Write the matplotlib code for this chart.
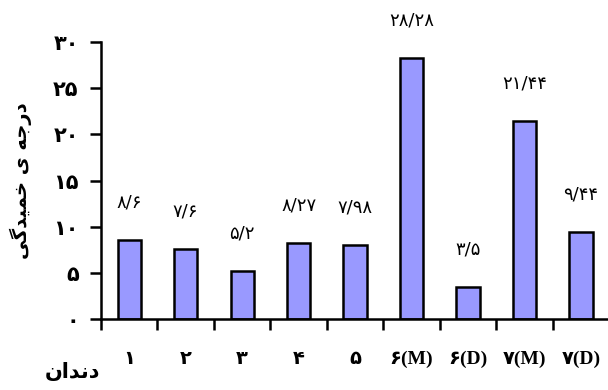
import matplotlib
matplotlib.use("Agg")
import matplotlib.pyplot as plt

# Data
categories = ["1", "2", "3", "4", "5", "6(M)", "6(D)", "7(M)", "7(D)"]
values = [8.6, 7.6, 5.2, 8.27, 7.98, 28.28, 3.5, 21.44, 9.44]
value_labels = ["8/6", "7/6", "5/2", "8/27", "7/98", "28/28", "3/5", "21/44", "9/44"]
yticks = [0, 5, 10, 15, 20, 25, 30]
ylabel_text = "درجه ی خمیدگی"
xlabel_text = "دندان"

PERSIAN_DIGITS = str.maketrans("0123456789", "۰۱۲۳۴۵۶۷۸۹")


def fa_digits(s):
    return s.translate(PERSIAN_DIGITS)


# Minimal Arabic-script shaping: (isolated, final, initial, medial) forms
FORMS = {
    "د": ("\uFEA9", "\uFEAA", None, None),
    "ر": ("\uFEAD", "\uFEAE", None, None),
    "ا": ("\uFE8D", "\uFE8E", None, None),
    "ج": ("\uFE9D", "\uFE9E", "\uFE9F", "\uFEA0"),
    "ه": ("\uFEE9", "\uFEEA", "\uFEEB", "\uFEEC"),
    "خ": ("\uFEA5", "\uFEA6", "\uFEA7", "\uFEA8"),
    "م": ("\uFEE1", "\uFEE2", "\uFEE3", "\uFEE4"),
    "ن": ("\uFEE5", "\uFEE6", "\uFEE7", "\uFEE8"),
    "ی": ("\uFBFC", "\uFBFD", "\uFBFE", "\uFBFF"),
    "گ": ("\uFB92", "\uFB93", "\uFB94", "\uFB95"),
}


def joins_next(ch):
    return ch in FORMS and FORMS[ch][2] is not None


def shape(text):
    out = []
    for i, ch in enumerate(text):
        if ch not in FORMS:
            out.append(ch)
            continue
        prev = text[i - 1] if i > 0 else " "
        nxt = text[i + 1] if i + 1 < len(text) else " "
        from_prev = joins_next(prev)
        to_next = joins_next(ch) and nxt in FORMS
        iso, fin, ini, med = FORMS[ch]
        if from_prev and to_next:
            out.append(med)
        elif from_prev:
            out.append(fin)
        elif to_next:
            out.append(ini)
        else:
            out.append(iso)
    return "".join(reversed(out))


fig = plt.figure(figsize=(6.08, 3.90), dpi=100)
ax = fig.add_axes([0.166, 0.182, 0.836, 0.71])

x = list(range(len(categories)))
bars = ax.bar(x, values, width=0.41, color="#9999FF", edgecolor="black", linewidth=1.8)

for xi, v, lab in zip(x, values, value_labels):
    ax.annotate(fa_digits(lab), (xi, v), xytext=(0, 27), textcoords="offset points",
                ha="center", va="center", fontsize=13, family=["DejaVu Sans"])

ax.set_xlim(-0.5, len(categories) - 0.5)
ax.set_ylim(0, 30)
ax.set_yticks(yticks)
ax.set_yticklabels([fa_digits(str(t)) for t in yticks], fontsize=15, fontweight="bold",
                   family=["DejaVu Sans"])

# category ticks sit on the boundaries between bars
ax.set_xticks([i - 0.5 for i in x])
ax.set_xticklabels([])
ax.tick_params(axis="x", direction="out", length=8, width=1.8)
ax.tick_params(axis="y", direction="out", length=8, width=1.8, pad=8)

for xi, cat in zip(x, categories):
    ax.annotate(fa_digits(cat), (xi, 0), xytext=(0, -29), textcoords="offset points",
                ha="center", va="center", fontsize=14, fontweight="bold",
                family=["Liberation Serif", "DejaVu Sans"], annotation_clip=False)

for side in ["top", "right"]:
    ax.spines[side].set_visible(False)
for side in ["left", "bottom"]:
    ax.spines[side].set_linewidth(1.8)

fig.text(0.035, 0.537, shape(ylabel_text), rotation=90, ha="center", va="center",
         fontsize=14, fontweight="bold", family=["DejaVu Sans"])
fig.text(0.119, 0.046, shape(xlabel_text), ha="center", va="center",
         fontsize=15, fontweight="bold", family=["DejaVu Sans"])

fig.savefig("out.png", dpi=100)
